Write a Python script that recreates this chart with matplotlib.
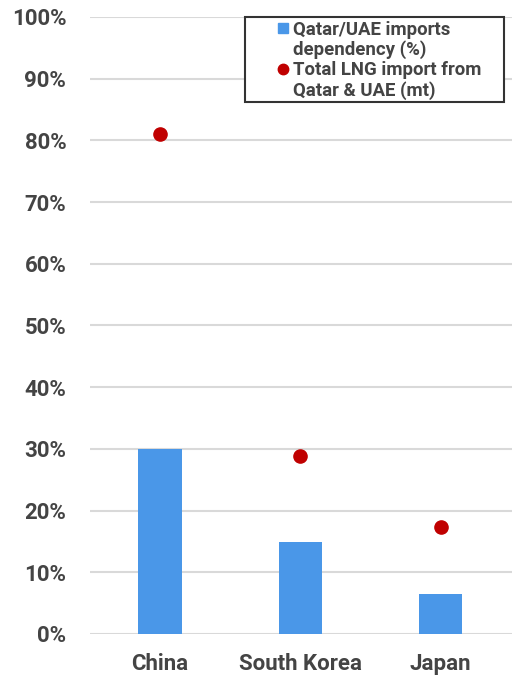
import matplotlib.pyplot as plt
from matplotlib.lines import Line2D
from matplotlib.patches import Rectangle
from matplotlib.ticker import FuncFormatter

# Données
pays = ['China', 'South Korea', 'Japan']
dependance = [30.0, 14.9, 6.5]      # Qatar/UAE imports dependency (%)
import_total = [81.0, 28.9, 17.3]   # Total LNG import from Qatar & UAE (mt)

bleu = '#4a97e8'
rouge = '#c00000'
gris = '#444444'

plt.rcParams['font.family'] = ['Roboto', 'DejaVu Sans']
plt.rcParams['font.weight'] = 'bold'

fig = plt.figure(figsize=(5.2, 6.82), dpi=100)
ax = fig.add_axes([0.173, 0.0704, 0.812, 0.9047])

x = range(len(pays))
ax.bar(x, dependance, width=0.31, color=bleu, zorder=2)
ax.plot(x, import_total, 'o', color=rouge, markersize=9.5, zorder=3)

ax.set_xlim(-0.5, 2.51)
ax.set_ylim(0, 100)
ax.set_yticks(range(0, 101, 10))
ax.yaxis.set_major_formatter(FuncFormatter(lambda v, p: f'{int(v)}%'))
ax.set_xticks(list(x))
ax.set_xticklabels(pays)
ax.tick_params(axis='both', length=0, labelsize=16, labelcolor=gris)
ax.tick_params(axis='x', pad=14)
ax.tick_params(axis='y', pad=17)
ax.grid(axis='y', color='#d9d9d9', linewidth=1.5, zorder=0)
for s in ax.spines.values():
    s.set_visible(False)

# Cadre de la légende (plus large que le contenu, comme l'original)
W, H = 520, 682
cadre = Rectangle((245 / W, 1 - 102 / H), (504 - 245) / W, (102 - 17) / H,
                  transform=fig.transFigure, facecolor='white', edgecolor='#333333',
                  linewidth=1.5, zorder=5)
fig.add_artist(cadre)

# Une entrée par ligne : le marqueur reste sur la première ligne de chaque libellé
vide = Line2D([], [], linestyle='none')
handles = [
    Line2D([], [], marker='s', linestyle='none', color=bleu, markersize=7),
    vide,
    Line2D([], [], marker='o', linestyle='none', color=rouge, markersize=7.5),
    vide,
]
labels = ['Qatar/UAE imports', 'dependency (%)', 'Total LNG import from', 'Qatar & UAE (mt)']
leg = fig.legend(handles, labels, loc='upper left', bbox_to_anchor=(276 / W, 1 - 19 / H),
                 fontsize=13.4, frameon=False, handlelength=0.55, handletextpad=0.25,
                 borderpad=0.1, labelspacing=0.09, borderaxespad=0)
leg.set_zorder(6)
for t in leg.get_texts():
    t.set_color(gris)

fig.savefig('out.png', dpi=100)
